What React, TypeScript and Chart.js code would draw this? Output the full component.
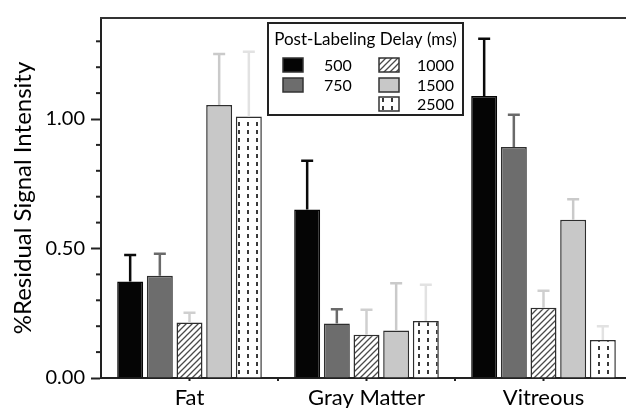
import React, { useEffect, useRef } from 'react';
import { Chart, registerables } from 'chart.js';

Chart.register(...registerables);

const categories = ['Fat', 'Gray Matter', 'Vitreous'];
const delays = ['500', '750', '1000', '1500', '2500'];

const mean500 = [0.373, 0.651, 1.089];
const mean750 = [0.395, 0.21, 0.892];
const mean1000 = [0.214, 0.167, 0.271];
const mean1500 = [1.054, 0.183, 0.611];
const mean2500 = [1.01, 0.22, 0.147];

const err500 = [0.102, 0.188, 0.221];
const err750 = [0.085, 0.055, 0.124];
const err1000 = [0.038, 0.097, 0.066];
const err1500 = [0.197, 0.183, 0.079];
const err2500 = [0.25, 0.14, 0.053];

const yTickValues = [0, 0.1, 0.2, 0.3, 0.4, 0.5, 0.6, 0.7, 0.8, 0.9, 1.0, 1.1, 1.2, 1.3];
const yLabelValues = [0, 0.5, 1.0];
const yMax = 1.39;

const legendTitle = 'Post-Labeling Delay (ms)';
const yTitle = '%Residual Signal Intensity';

const FONT = 'Lato';

function makeHatch(): CanvasPattern {
  const c = document.createElement('canvas');
  c.width = 6;
  c.height = 6;
  const g = c.getContext('2d')!;
  g.fillStyle = '#ffffff';
  g.fillRect(0, 0, 6, 6);
  g.strokeStyle = '#4a4a4a';
  g.lineWidth = 1.3;
  g.beginPath();
  g.moveTo(-1, 7);
  g.lineTo(7, -1);
  g.moveTo(-1, 1);
  g.lineTo(1, -1);
  g.moveTo(5, 7);
  g.lineTo(7, 5);
  g.stroke();
  return g.createPattern(c, 'repeat')!;
}

function makeDots(): CanvasPattern {
  const c = document.createElement('canvas');
  c.width = 9;
  c.height = 8;
  const g = c.getContext('2d')!;
  g.fillStyle = '#ffffff';
  g.fillRect(0, 0, 9, 8);
  g.fillStyle = '#3a3a3a';
  g.fillRect(4, 2, 2, 4);
  return g.createPattern(c, 'repeat')!;
}

function isLabeled(v: number) {
  return yLabelValues.some((l) => Math.abs(l - v) < 1e-6);
}

export default function App() {
  const ref = useRef<HTMLCanvasElement | null>(null);

  useEffect(() => {
    if (!ref.current) return;
    const hatch = makeHatch();
    const dots = makeDots();
    const means = [mean500, mean750, mean1000, mean1500, mean2500];
    const errs = [err500, err750, err1000, err1500, err2500];
    const fills: any[] = ['#050505', '#6d6d6d', hatch, '#c8c8c8', dots];
    const errColors = ['#0a0a0a', '#6a6a6a', '#cfcfcf', '#cacaca', '#e2e2e2'];

    const errorBarPlugin = {
      id: 'errbars',
      afterDatasetsDraw(chart: any) {
        const ctx = chart.ctx;
        const y = chart.scales.y;
        chart.data.datasets.forEach((ds: any, i: number) => {
          const meta = chart.getDatasetMeta(i);
          meta.data.forEach((bar: any, j: number) => {
            const v = ds.data[j];
            const e = errs[i][j];
            const yTop = y.getPixelForValue(v + e);
            const yBar = y.getPixelForValue(v);
            ctx.save();
            ctx.strokeStyle = errColors[i];
            ctx.lineWidth = 2.5;
            ctx.beginPath();
            ctx.moveTo(bar.x, yBar);
            ctx.lineTo(bar.x, yTop);
            ctx.moveTo(bar.x - 6, yTop);
            ctx.lineTo(bar.x + 6, yTop);
            ctx.stroke();
            ctx.restore();
          });
        });
      },
    };

    const framePlugin = {
      id: 'frame',
      afterDraw(chart: any) {
        const ctx = chart.ctx;
        const a = chart.chartArea;
        const y = chart.scales.y;
        const x = chart.scales.x;
        ctx.save();
        ctx.strokeStyle = '#333';
        ctx.lineWidth = 2;
        ctx.beginPath();
        ctx.moveTo(a.left - 1, a.top);
        ctx.lineTo(a.right + 10, a.top);
        ctx.stroke();
        ctx.strokeStyle = '#222';
        ctx.lineWidth = 2;
        yTickValues.forEach((v) => {
          if (isLabeled(v)) return;
          const py = y.getPixelForValue(v);
          ctx.beginPath();
          ctx.moveTo(a.left - 5, py);
          ctx.lineTo(a.left, py);
          ctx.stroke();
        });
        ctx.fillStyle = '#222';
        for (let i = 0; i < categories.length; i++) {
          const px = x.getPixelForValue(i);
          ctx.fillRect(px - 1, a.bottom, 2, 3);
          if (i < categories.length - 1) {
            const nx = x.getPixelForValue(i + 1);
            ctx.fillRect((px + nx) / 2 - 1, a.bottom, 2, 3);
          }
        }
        const bx = 268, by = 23, bw = 195, bh = 92;
        ctx.fillStyle = '#ffffff';
        ctx.fillRect(bx, by, bw, bh);
        ctx.strokeStyle = '#222';
        ctx.lineWidth = 2;
        ctx.strokeRect(bx, by, bw, bh);
        ctx.fillStyle = '#000';
        ctx.font = `17px ${FONT}`;
        ctx.textBaseline = 'middle';
        ctx.textAlign = 'center';
        ctx.fillText(legendTitle, bx + bw / 2, 40);
        const slots = [
          { sx: 283, lx: 324, cy: 65 },
          { sx: 283, lx: 324, cy: 85 },
          { sx: 379, lx: 417, cy: 65 },
          { sx: 379, lx: 417, cy: 85 },
          { sx: 379, lx: 417, cy: 104 },
        ];
        ctx.textAlign = 'left';
        ctx.font = `16px ${FONT}`;
        delays.forEach((d, i) => {
          const s = slots[i];
          ctx.fillStyle = fills[i];
          ctx.fillRect(s.sx, s.cy - 7, 20, 14);
          ctx.strokeStyle = '#333';
          ctx.lineWidth = 1.5;
          ctx.strokeRect(s.sx, s.cy - 7, 20, 14);
          ctx.fillStyle = '#000';
          ctx.fillText(d, s.lx, s.cy + 1);
        });
        ctx.restore();
      },
    };

    const chart = new Chart(ref.current, {
      type: 'bar',
      data: {
        labels: categories,
        datasets: delays.map((d, i) => ({
          label: d,
          data: means[i],
          backgroundColor: fills[i],
          borderColor: i === 0 ? '#050505' : '#2e2e2e',
          borderWidth: 1.5,
          categoryPercentage: 0.838,
          barPercentage: 0.875,
        })),
      },
      options: {
        responsive: false,
        animation: false,
        layout: { padding: { left: 0, right: 4, top: 13, bottom: 0 } },
        plugins: { legend: { display: false }, tooltip: { enabled: false }, title: { display: false } },
        scales: {
          x: {
            type: 'category',
            offset: true,
            grid: { display: true, drawOnChartArea: false, drawTicks: false },
            border: { display: true, color: '#222', width: 2 },
            ticks: { font: { family: FONT, size: 22 }, color: '#000', padding: 7 },
            afterFit: (s: any) => {
              s.height = 30;
            },
          },
          y: {
            type: 'linear',
            min: 0,
            max: yMax,
            afterBuildTicks: (s: any) => {
              s.ticks = yTickValues.map((v) => ({ value: v }));
            },
            ticks: {
              font: { family: FONT, size: 20 },
              color: '#000',
              padding: 6,
              autoSkip: false,
              callback: (v: any) => (isLabeled(Number(v)) ? Number(v).toFixed(2) : ''),
            },
            grid: {
              display: true,
              drawOnChartArea: false,
              drawTicks: true,
              tickLength: 10,
              tickWidth: 2,
              tickColor: (c: any) => (c.tick && isLabeled(c.tick.value) ? '#222' : 'rgba(0,0,0,0)'),
            },
            border: { display: true, color: '#222', width: 2 },
            title: {
              display: true,
              text: yTitle,
              font: { family: FONT, size: 24 },
              color: '#000',
              padding: { top: 9, bottom: 0 },
            },
            afterFit: (s: any) => {
              s.width = 101;
            },
          },
        },
      },
      plugins: [errorBarPlugin, framePlugin],
    });
    return () => chart.destroy();
  }, []);

  return (
    <div style={{ position: 'fixed', left: 0, top: 0, width: 626, height: 408, overflow: 'hidden', background: '#fff' }}>
      <canvas ref={ref} width={636} height={408} style={{ display: 'block' }} />
    </div>
  );
}
